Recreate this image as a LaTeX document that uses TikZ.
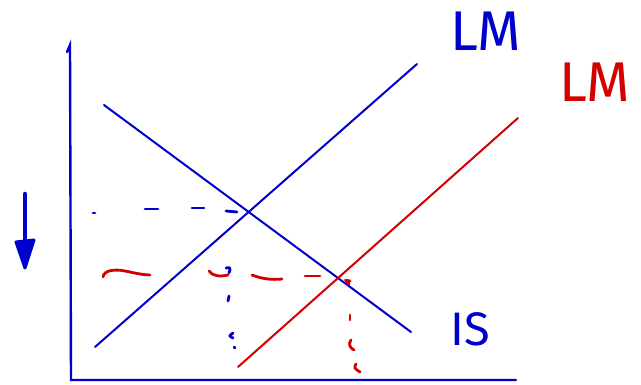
\documentclass[tikz,border=0pt]{standalone}
\usepackage{fontspec}
\setmainfont{Fira Sans}
\definecolor{pblue}{RGB}{0,0,205}
\definecolor{pred}{RGB}{210,0,0}
\tikzset{
  curve/.style={line width=2pt, line cap=round},
  dsh/.style={line width=2.8pt, line cap=round},
  lbl/.style={inner sep=0pt, font=\fontsize{56}{56}\selectfont},
}
\begin{document}
\begin{tikzpicture}[x=1pt,y=-1pt]
\useasboundingbox (0,0) rectangle (641,385);
% axes
\coordinate (top) at (70,45);
\coordinate (origin) at (71,380);
\coordinate (xend) at (516,380);
\draw[pblue, line width=2.4pt, line cap=round] (67,52) -- (top) -- (origin) -- (xend);
% curves
\coordinate (lm1a) at (95,347);
\coordinate (lm1b) at (417,64);
\coordinate (isa) at (104,105);
\coordinate (isb) at (411,332);
\coordinate (lm2a) at (238,367);
\coordinate (lm2b) at (518,118);
\draw[pblue, curve] (lm1a) -- (lm1b);
\draw[pblue, curve] (isa) -- (isb);
\draw[pred, curve] (lm2a) -- (lm2b);
% blue dashed horizontal
\draw[pblue, dsh] (93,213) -- (95,213);
\draw[pblue, dsh] (145,209) -- (158,209);
\draw[pblue, dsh] (192,208) -- (204,208);
\draw[pblue, dsh] (226,211) -- (237,212);
% blue vertical dashed
\draw[pblue, dsh] (226,268) .. controls (230,267) and (231,268) .. (229,273);
\draw[pblue, dsh] (229,296) -- (228,301);
\draw[pblue, dsh] (233,333) .. controls (229,336) .. (233,338);
\draw[pblue, dsh] (234,347) -- (235,348);
% red dashed horizontal
\draw[pred, dsh] (103,277) .. controls (104,270) and (115,269) .. (125,271) .. controls (135,273) and (143,275) .. (150,275);
\draw[pred, dsh] (209,271) .. controls (212,276) and (220,277) .. (228,275);
\draw[pred, dsh] (252,275) .. controls (262,279) and (272,280) .. (282,279);
\draw[pred, dsh] (305,276) -- (320,276);
% red vertical dashed
\draw[pred, dsh] (350,281) .. controls (345,280) .. (349,284);
\draw[pred, dsh] (350,315) -- (350,320);
\draw[pred, dsh] (351,340) .. controls (348,344) and (350,348) .. (354,350);
\draw[pred, dsh] (356,364) .. controls (354,368) .. (360,372);
% arrow
\coordinate (arra) at (25,194);
\coordinate (arrm) at (25,245);
\draw[pblue, line width=4.5pt, line cap=round] (arra) -- (arrm);
\filldraw[pblue, line width=3pt, line join=round] (16,242) -- (34,240) -- (25,268) -- cycle;
% labels
\node[lbl, text=pblue] (lmblue) at (486,31) {LM};
\node[lbl, text=pred] (lmred) at (595,82) {LM};
\node[lbl, text=pblue, font=\fontsize{47}{47}\selectfont] (is) at (470,329) {IS};
\end{tikzpicture}
\end{document}
